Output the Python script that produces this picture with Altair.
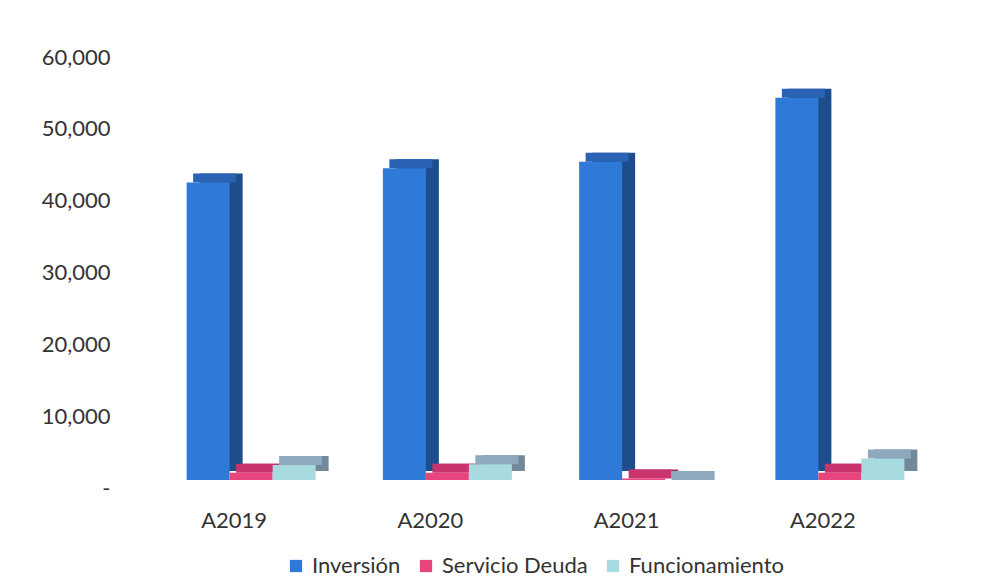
import altair as alt
import pandas as pd

years = ["A2019", "A2020", "A2021", "A2022"]
series = ["Inversión", "Servicio Deuda", "Funcionamiento"]
inversion = [41400, 43400, 44300, 53200]
servicio_deuda = [1000, 1000, 200, 1000]
funcionamiento = [2100, 2200, 0, 3000]
y_ticks = [0, 10000, 20000, 30000, 40000, 50000, 60000]

front_colors = ["#2f7ad8", "#e8457f", "#a8dbe0"]
top_colors = ["#2a62b4", "#c9336e", "#8ea8bd"]
side_colors = ["#1e4d8c", "#a82a5c", "#72889b"]
group_offsets = [-26, 17, 60]

rows = []
for s, vals in zip(series, [inversion, servicio_deuda, funcionamiento]):
    for y, v in zip(years, vals):
        rows.append({"year": y, "series": s, "v": v})
df = pd.DataFrame(rows)

FONT = "Lato"
TEXT = "#333333"
W = 43
DX, DY, LIFT = 13, 9, 8

x_enc = alt.X("year:N", sort=years, title=None,
              scale=alt.Scale(paddingInner=0, paddingOuter=0),
              axis=alt.Axis(labelFont=FONT, labelFontSize=22, labelColor=TEXT,
                            tickSize=0, domain=False, labelPadding=22, labelAngle=0))
y_scale = alt.Scale(domain=[0, 60000])
y_axis = alt.Axis(values=y_ticks, labelFont=FONT, labelFontSize=22, labelColor=TEXT,
                  tickSize=0, domain=False, grid=False, labelPadding=26,
                  labelExpr="datum.value == 0 ? '-' : format(datum.value, ',')")

layers = []
for i, s in enumerate(series):
    base = alt.Chart(df).transform_filter(alt.datum.series == s)
    off = group_offsets[i]
    back = base.mark_bar(width=W, xOffset=off + DX, yOffset=-(LIFT + DY),
                         y2Offset=-(LIFT + DY), color=side_colors[i]).encode(
        x=x_enc, y=alt.Y("v:Q", scale=y_scale, axis=y_axis, title=None))
    top = base.mark_bar(width=W, xOffset=off + DX / 2, yOffset=-(LIFT + DY),
                        y2Offset=-LIFT, color=top_colors[i]).encode(
        x=x_enc, y=alt.Y("v:Q", scale=y_scale, axis=y_axis, title=None), y2="v:Q")
    front = base.mark_bar(width=W, xOffset=off, yOffset=-LIFT, y2Offset=-LIFT).encode(
        x=x_enc, y=alt.Y("v:Q", scale=y_scale, axis=y_axis, title=None),
        color=alt.Color("series:N", sort=series, title=None,
                        scale=alt.Scale(domain=series, range=front_colors),
                        legend=alt.Legend(orient="none", legendX=149, legendY=498,
                                          direction="horizontal",
                                          symbolType="square", symbolSize=150,
                                          symbolStrokeWidth=0, labelFont=FONT,
                                          labelFontSize=22, labelColor=TEXT,
                                          columnPadding=14, labelOffset=5)))
    layers += [back, top, front]

chart = alt.layer(*layers).properties(
    width=785, height=431,
    padding={"left": 128, "top": 49, "right": 40, "bottom": 90},
    autosize=alt.AutoSizeParams(type="none"),
    background="white",
).configure_view(stroke=None)

chart.save("out.html", embed_options={"renderer": "svg", "actions": False})
